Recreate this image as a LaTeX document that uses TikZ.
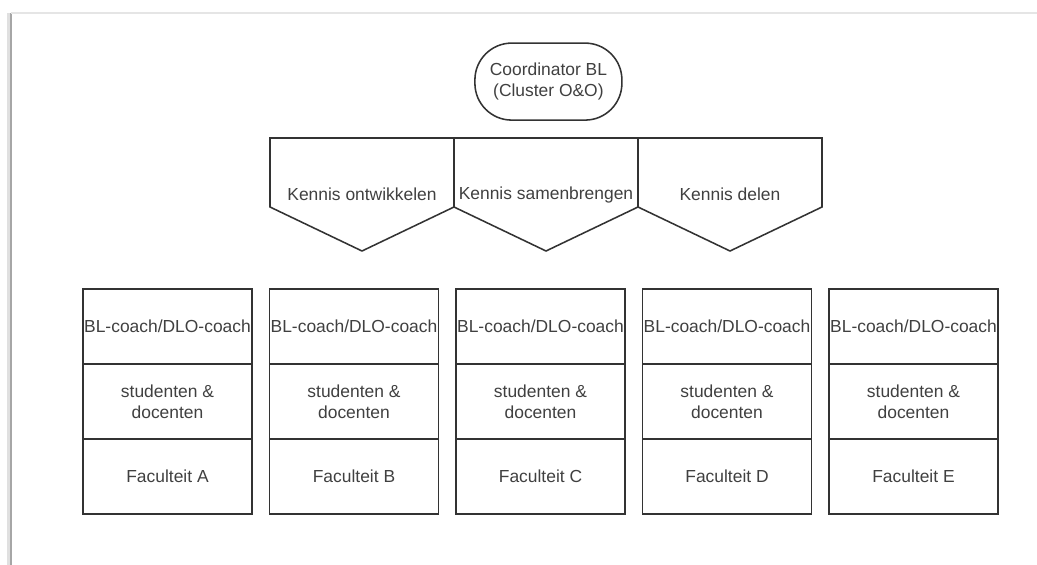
\documentclass[tikz,border=0pt]{standalone}
\usepackage{fontspec}
\setmainfont{Liberation Sans}
\usetikzlibrary{positioning, calc}

\tikzset{
	lijn/.style={draw=black!80, line width=1.1pt},
	cel/.style={lijn, rectangle, minimum width=4.225cm, minimum height=1.875cm, inner sep=0pt, outer sep=0pt, align=center, text=black!75},
	taak/.style={rectangle, minimum width=4.6cm, minimum height=2.825cm, inner sep=0pt, outer sep=0pt, text=black!75},
}

\begin{document}
\begin{tikzpicture}[font=\fontsize{12.4}{14.7}\selectfont]
		% Fix the page size
		\useasboundingbox (0,0) rectangle (25.925,-14.125);
		
		% Page edge with shadow
		\draw[black!12, line width=2.5pt] (0.22,-14.125) -- (0.22,-0.33);
		\draw[black!35, line width=0.8pt] (0.275,-14.125) -- (0.275,-0.325);
		\draw[black!10, line width=0.8pt] (0.275,-0.325) -- (25.925,-0.325);
		
		% Coordinator at the top
		\node[lijn, rounded corners=0.92cm, minimum width=3.675cm, minimum height=1.925cm, align=center, text=black!75] (coord) at (13.71,-2.04) {Coordinator BL\\(Cluster O\&O)};
		
		% The three tasks
		\node[taak] (ontw) at (9.05,-4.8625) {Kennis ontwikkelen};
		\node[taak, right=0pt of ontw] (samen) {Kennis samenbrengen};
		\node[taak, right=0pt of samen] (delen) {Kennis delen};
		\foreach \t in {ontw, samen, delen} {
			\draw[lijn, line join=miter] (\t.north west) -- (\t.north east) -- ($(\t.south east)+(0,1.1)$) -- (\t.south) -- ($(\t.south west)+(0,1.1)$) -- cycle;
		}
		
		% Columns for the faculties
		\node[cel] (coachA) at (4.1875,-8.1625) {BL-coach/DLO-coach};
		\node[cel, right=0.4375cm of coachA] (coachB) {BL-coach/DLO-coach};
		\node[cel, right=0.4375cm of coachB] (coachC) {BL-coach/DLO-coach};
		\node[cel, right=0.4375cm of coachC] (coachD) {BL-coach/DLO-coach};
		\node[cel, right=0.4375cm of coachD] (coachE) {BL-coach/DLO-coach};
		\foreach \f in {A,B,C,D,E} {
			\node[cel, below=0pt of coach\f] (stud\f) {studenten \&\\docenten};
			\node[cel, below=0pt of stud\f] (fac\f) {Faculteit \f};
		}
		
	\end{tikzpicture}
\end{document}
